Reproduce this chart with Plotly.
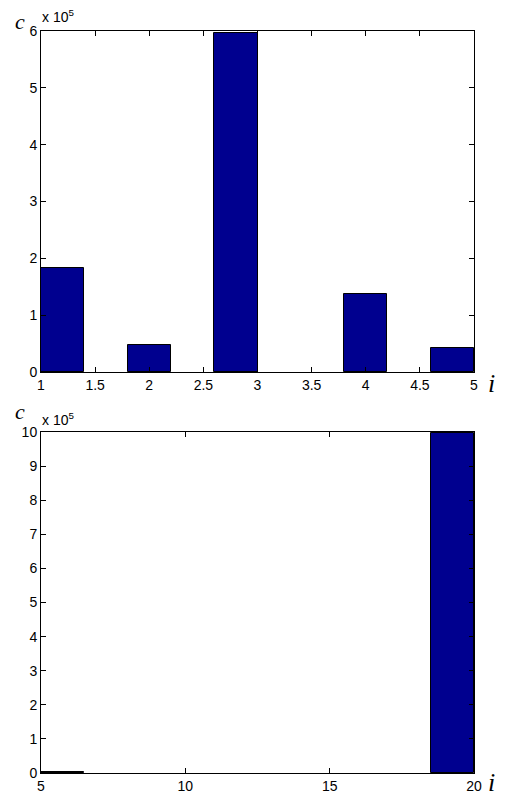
import plotly.graph_objects as go

# Top histogram (i from 1 to 5)
top_centers = [1.2, 2.0, 2.8, 4.0, 4.8]
top_width = 0.4
top_counts = [182600, 47000, 597000, 136800, 41700]
top_xticks = [1, 1.5, 2, 2.5, 3, 3.5, 4, 4.5, 5]
top_yticks = [0, 1, 2, 3, 4, 5, 6]

# Bottom histogram (i from 5 to 20)
bot_centers = [5.75, 19.25]
bot_width = 1.5
bot_counts = [4000, 997000]
bot_xticks = [5, 10, 15, 20]
bot_yticks = [0, 1, 2, 3, 4, 5, 6, 7, 8, 9, 10]

scale = 1e5
bar_color = "rgb(0,0,143)"

fig = go.Figure()
fig.add_trace(go.Bar(x=top_centers, y=top_counts, width=[top_width] * len(top_centers),
                     marker=dict(color=bar_color, line=dict(color="black", width=1)),
                     xaxis="x", yaxis="y", showlegend=False))
fig.add_trace(go.Bar(x=bot_centers, y=bot_counts, width=[bot_width] * len(bot_centers),
                     marker=dict(color=bar_color, line=dict(color="black", width=1)),
                     xaxis="x2", yaxis="y2", showlegend=False))

W, H = 511, 805
ml, mr, mt, mb = 41, 37, 31, 32
ph = H - mt - mb
pw = W - ml - mr
top_dom = [(773 - 372) / ph, 1.0]
bot_dom = [0.0, (773 - 432) / ph]

font_tick = dict(family="Arial, Liberation Sans, sans-serif", size=14, color="black")
common = dict(showline=True, linecolor="black", linewidth=1, mirror="ticks",
              ticks="inside", ticklen=5, tickcolor="black", tickwidth=1,
              showgrid=False, zeroline=False, tickfont=font_tick)

fig.update_layout(
    width=W, height=H,
    margin=dict(l=ml, r=mr, t=mt, b=mb),
    plot_bgcolor="white", paper_bgcolor="white",
    bargap=0,
    xaxis=dict(domain=[0, 1], anchor="y", range=[1, 5], tickvals=top_xticks,
               ticktext=[f"{v:g}" for v in top_xticks], **common),
    yaxis=dict(domain=top_dom, anchor="x", range=[0, 6 * scale],
               tickvals=[v * scale for v in top_yticks],
               ticktext=[str(v) for v in top_yticks], **common),
    xaxis2=dict(domain=[0, 1], anchor="y2", range=[5, 20], tickvals=bot_xticks,
                ticktext=[str(v) for v in bot_xticks], **common),
    yaxis2=dict(domain=bot_dom, anchor="x2", range=[0, 10 * scale],
                tickvals=[v * scale for v in bot_yticks],
                ticktext=[str(v) for v in bot_yticks], **common),
)

ser = "Times New Roman, Liberation Serif, DejaVu Serif, serif"


def px(x, y):
    return (x - ml) / pw, (H - mb - y) / ph


ann = []
labels = [
    ("<i>c</i>", 20, 22, dict(family=ser, size=22, color="black"), "center"),
    ("x 10<sup>5</sup>", 40, 16, font_tick, "left"),
    ("<i>i</i>", 491, 383, dict(family=ser, size=26, color="black"), "center"),
    ("<i>c</i>", 20, 411, dict(family=ser, size=22, color="black"), "center"),
    ("x 10<sup>5</sup>", 40, 419, font_tick, "left"),
    ("<i>i</i>", 491, 782, dict(family=ser, size=26, color="black"), "center"),
]
for text, x, y, f, xa in labels:
    xx, yy = px(x, y)
    ann.append(dict(text=text, x=xx, y=yy, xref="paper", yref="paper",
                    showarrow=False, font=f, xanchor=xa, yanchor="middle"))
fig.update_layout(annotations=ann)

fig.write_html("out.html", config={"displayModeBar": False},
               post_script="document.body.style.margin='0px';")
